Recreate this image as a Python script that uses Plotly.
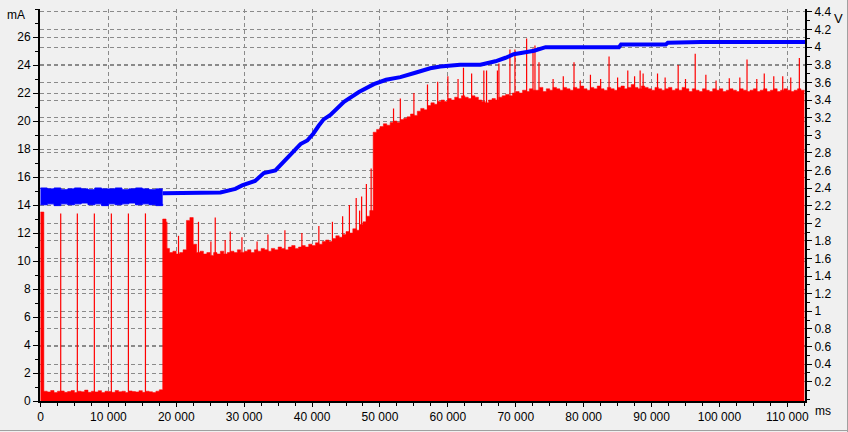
import plotly.graph_objects as go

# ---------------- data ----------------
# current baseline, sampled every 500 ms (mA)
cur_step_ms = 500
cur_vals = [
    13.5, 0.7, 0.65, 0.75, 0.6, 0.7, 0.72, 0.62, 0.68, 0.75, 0.6, 0.7, 0.66, 0.78, 0.62, 0.7,
    0.65, 0.74, 0.6, 0.7, 0.68, 0.62, 0.75, 0.66, 0.7, 0.6, 0.72, 0.68, 0.65, 0.74, 0.62, 0.7,
    0.66, 0.6, 0.7, 0.8,
    # 18000 ..
    13.0, 10.9, 10.6, 10.7, 10.5, 10.6, 10.8, 12.9, 13.1, 11.2, 10.6, 10.7, 10.5, 10.6, 10.4, 10.6,
    10.5, 10.7, 10.5, 10.6, 10.7, 10.6, 10.8, 10.6, 10.7, 10.8, 10.6, 10.8, 10.7, 10.9, 10.8, 10.7,
    10.9, 10.8, 11.0, 10.9, 10.8, 11.0, 11.1, 10.9, 11.0, 11.1, 11.0, 11.2, 11.1, 11.3, 11.2, 11.4,
    11.5, 11.4, 11.6, 11.8, 11.7, 11.9, 12.1, 12.0, 12.3, 12.2, 12.6, 12.8, 13.2, 13.6,
    # 49000 ..
    19.2, 19.4, 19.6, 19.8, 19.7, 19.9, 20.0, 19.9, 20.1, 20.2, 20.3, 20.5, 20.4, 20.7, 20.9, 20.8,
    21.1, 21.3, 21.2, 21.4, 21.5, 21.4, 21.6, 21.5, 21.7, 21.6, 21.8, 21.7, 21.6, 21.8, 21.7, 21.5,
    # 65000 ..
    21.4, 21.3, 21.5, 21.6, 21.5, 21.7, 21.8, 21.9, 21.8, 22.0, 22.1, 22.0, 22.2, 22.1, 22.3, 22.2,
    22.2, 22.4, 22.1, 22.3, 22.2, 22.4, 22.3, 22.2, 22.4, 22.3, 22.2, 22.4, 22.3, 22.5, 22.3, 22.2,
    22.4, 22.3, 22.5, 22.3, 22.2, 22.4, 22.3, 22.2, 22.4, 22.5, 22.3, 22.4, 22.6, 22.4, 22.3, 22.5,
    22.4, 22.3, 22.2, 22.4, 22.3, 22.2, 22.3, 22.4, 22.2, 22.3, 22.2, 22.4, 22.3, 22.1, 22.3, 22.2,
    22.1, 22.3, 22.2, 22.1, 22.3, 22.2, 22.3, 22.1, 22.2, 22.3, 22.2, 22.1, 22.3, 22.2, 22.1, 22.2,
    22.3, 22.1, 22.2, 22.3, 22.1, 22.2, 22.3, 22.1, 22.2, 22.3, 22.2, 22.1, 22.2, 22.3, 22.2, 22.1,
]

# narrow current spikes (ms, mA)
spike_t = [2980, 5430, 7935, 10440, 12950, 15460,
           18600, 20330, 23270, 25100, 25740, 27200, 27950, 29670, 31900, 33500, 36000, 38500,
           41000, 43000, 44500, 45500, 46500, 47000, 47300, 48000, 48700,
           52000, 53000, 55000, 57000, 58500, 60000, 61500, 62300, 63500,
           65300, 65700, 67300, 67520, 69140, 69880, 71600, 72540, 72830, 73420, 75500, 77000,
           78580, 79500, 81000, 82500, 83740, 85000, 86500, 87500, 88320, 88760, 90880, 92000,
           93920, 95000, 96430, 98000, 99500, 101450, 103000, 104060, 105500, 106600, 108000,
           109320, 110500, 111770]
spike_mA = [13.4, 13.4, 13.4, 13.4, 13.4, 13.4,
            12.8, 11.8, 12.8, 11.4, 13.1, 11.5, 12.1, 11.7, 11.4, 11.9, 12.2, 12.0,
            12.5, 12.8, 13.2, 14.0, 14.5, 13.6, 14.6, 15.5, 16.6,
            20.9, 21.6, 22.0, 22.6, 22.8, 23.2, 23.0, 23.8, 23.4,
            23.6, 23.6, 23.6, 24.1, 25.1, 25.1, 25.9, 25.2, 25.4, 24.2, 23.0, 23.2,
            24.2, 22.9, 23.3, 23.0, 24.6, 23.1, 23.6, 23.2, 23.6, 23.4, 23.4, 23.1,
            24.0, 23.0, 24.8, 23.3, 22.9, 23.05, 23.1, 24.4, 23.0, 23.4, 23.2,
            23.2, 23.1, 24.5]

# voltage noise band during the first phase (ms, V)
band_t = [0, 1000, 2000, 3000, 4000, 5000, 6000, 7000, 8000, 9000, 10000, 11000, 12000,
          13000, 14000, 15000, 16000, 17000, 18000]
band_hi = [2.40, 2.39, 2.40, 2.38, 2.39, 2.40, 2.39, 2.38, 2.40, 2.39, 2.39, 2.40, 2.38,
           2.39, 2.40, 2.39, 2.38, 2.39, 2.39]
band_lo = [2.21, 2.22, 2.20, 2.22, 2.21, 2.22, 2.23, 2.21, 2.22, 2.20, 2.22, 2.21, 2.22,
           2.23, 2.21, 2.22, 2.21, 2.20, 2.22]

# voltage trace after the first phase (ms, V)
volt_t = [18000, 20000, 22000, 24000, 26000, 26500, 28700, 29700, 31600, 32900, 34600, 35800,
          37000, 38300, 39300, 40200, 41000, 41700, 42700, 44700, 46900, 49100, 50900, 53000,
          55200, 57400, 58900, 61800, 64800, 67000, 68500, 69700, 71200, 72700, 74400, 85200,
          85500, 92100, 92400, 97300, 112600]
volt_V = [2.34, 2.34, 2.34, 2.34, 2.34, 2.35, 2.39, 2.43, 2.48, 2.57, 2.60, 2.70,
          2.79, 2.90, 2.94, 3.02, 3.11, 3.18, 3.23, 3.38, 3.49, 3.58, 3.63, 3.66,
          3.71, 3.76, 3.78, 3.80, 3.80, 3.84, 3.88, 3.92, 3.94, 3.96, 4.00, 4.00,
          4.03, 4.03, 4.05, 4.06, 4.06]

# axis ticks
x_ticks = [0, 10000, 20000, 30000, 40000, 50000, 60000, 70000, 80000, 90000, 100000, 110000]
mA_ticks = [0, 2, 4, 6, 8, 10, 12, 14, 16, 18, 20, 22, 24, 26]
V_ticks = [0.2, 0.4, 0.6, 0.8, 1, 1.2, 1.4, 1.6, 1.8, 2, 2.2, 2.4, 2.6, 2.8, 3, 3.2, 3.4,
           3.6, 3.8, 4, 4.2, 4.4]

# ---------------- figure ----------------
RED = "#FF0000"
BLUE = "#0000FF"
GRID = "#8a8a8a"

cur_t = [i * cur_step_ms for i in range(len(cur_vals))]

fig = go.Figure()

# voltage band (first phase)
fig.add_trace(go.Scatter(x=band_t, y=band_lo, yaxis="y2", mode="lines", line_shape="hv",
                         line=dict(color=BLUE, width=1), showlegend=False, hoverinfo="skip"))
fig.add_trace(go.Scatter(x=band_t, y=band_hi, yaxis="y2", mode="lines", line_shape="hv",
                         fill="tonexty", fillcolor=BLUE,
                         line=dict(color=BLUE, width=1), showlegend=False, hoverinfo="skip"))

# current fill
fig.add_trace(go.Scatter(x=cur_t, y=cur_vals, mode="lines", line_shape="hv", fill="tozeroy",
                         fillcolor=RED, line=dict(color=RED, width=0.5), showlegend=False))

# current spikes
sx, sy = [], []
for t, h in zip(spike_t, spike_mA):
    sx += [t, t, None]
    sy += [0, h, None]
fig.add_trace(go.Scatter(x=sx, y=sy, mode="lines", line=dict(color=RED, width=1.2),
                         showlegend=False, hoverinfo="skip"))

# voltage line
fig.add_trace(go.Scatter(x=volt_t, y=volt_V, yaxis="y2", mode="lines",
                         line=dict(color=BLUE, width=4), showlegend=False))

font = dict(family="Liberation Sans, Arial, sans-serif", size=12, color="#000000")

fig.update_layout(
    width=848, height=432,
    margin=dict(l=40, r=43, t=9, b=31),
    paper_bgcolor="#F0F0F0", plot_bgcolor="#F0F0F0",
    separators=". ",
    font=font,
    showlegend=False,
    xaxis=dict(range=[-70, 112600], tickvals=x_ticks, tickformat=",d",
               showgrid=True, gridcolor=GRID, griddash="4px,3px", gridwidth=1,
               showline=True, linecolor="#000000", linewidth=2,
               ticks="outside", ticklen=4, tickcolor="#000000",
               minor=dict(dtick=2500, tick0=0, ticks="outside", ticklen=3, tickcolor="#000000",
                          showgrid=False),
               zeroline=False, fixedrange=True, automargin=False),
    yaxis=dict(range=[0, 28], tickvals=mA_ticks,
               showgrid=True, gridcolor=GRID, griddash="4px,3px", gridwidth=1,
               showline=True, linecolor="#000000", linewidth=2,
               ticks="outside", ticklen=5, tickcolor="#000000",
               minor=dict(dtick=1, tick0=0, ticks="outside", ticklen=3, tickcolor="#000000",
                          showgrid=False),
               zeroline=False, fixedrange=True, automargin=False),
    yaxis2=dict(range=[-0.0198, 4.434], tickvals=V_ticks, overlaying="y", side="right",
                showgrid=True, gridcolor=GRID, griddash="4px,3px", gridwidth=1,
                showline=True, linecolor="#000000", linewidth=2,
                ticks="outside", ticklen=5, tickcolor="#000000",
                minor=dict(dtick=0.1, tick0=0, ticks="outside", ticklen=3, tickcolor="#000000",
                           showgrid=False),
                zeroline=False, fixedrange=True, automargin=False),
    annotations=[
        dict(text="mA", xref="paper", yref="paper", x=-0.017, y=1.0, xanchor="right",
             yanchor="top", showarrow=False, font=font, yshift=3),
        dict(text="V", xref="paper", yref="paper", x=(832 - 40) / 765, y=1.0, xanchor="left",
             yanchor="top", showarrow=False, font=dict(family=font["family"], size=13,
                                                       color="#000000"), yshift=0),
        dict(text="ms", xref="paper", yref="paper", x=1.01, y=0.0, xanchor="left",
             yanchor="top", showarrow=False, font=font, yshift=-1),
    ],
    shapes=[
        dict(type="line", xref="paper", yref="paper", x0=-0.06, x1=1.06,
             y0=-(430.5 - 401) / 392, y1=-(430.5 - 401) / 392,
             line=dict(color="#a0a0a0", width=1)),
        dict(type="line", xref="paper", yref="paper", x0=(847.5 - 40) / 765, x1=(847.5 - 40) / 765,
             y0=-0.1, y1=1.05, line=dict(color="#a0a0a0", width=1)),
    ],
)

fig.write_html("out.html",
               config={"displayModeBar": False, "staticPlot": True},
               post_script="document.body.style.margin='0';document.body.style.overflow='hidden';")
